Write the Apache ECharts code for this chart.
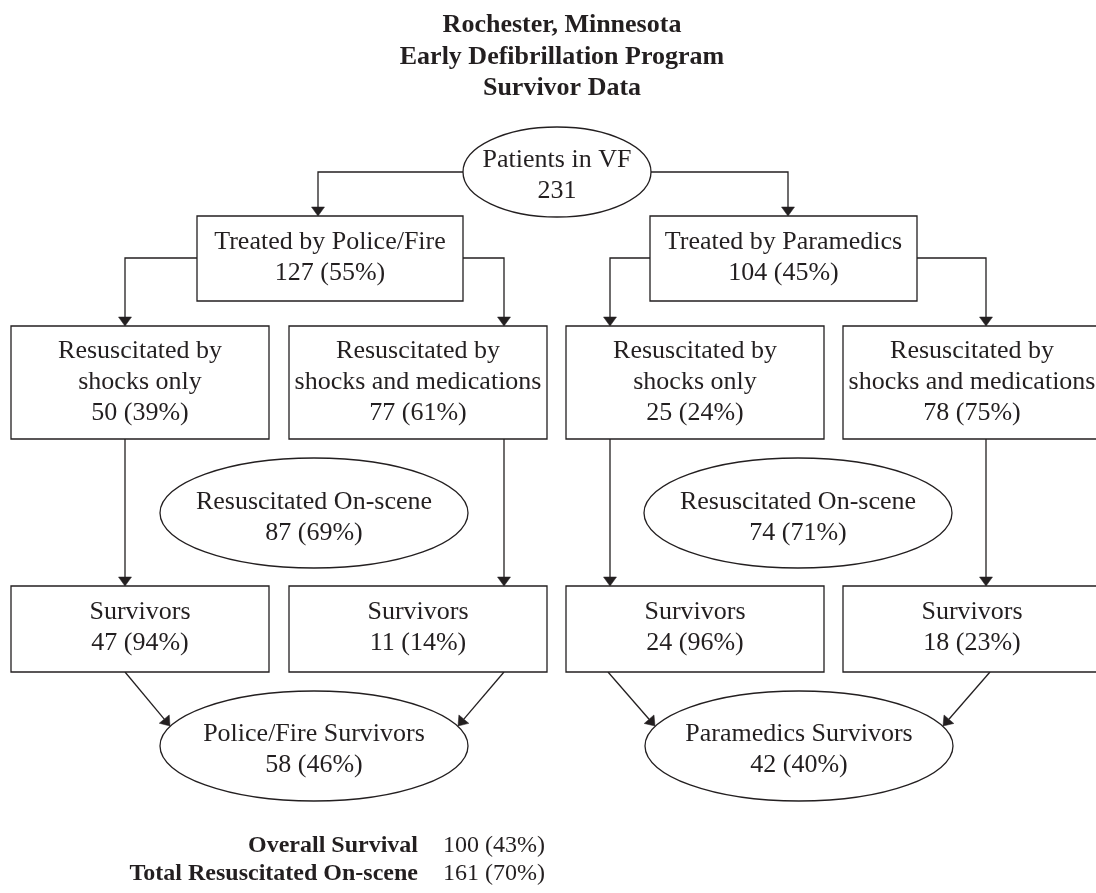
<!DOCTYPE html>
<html><head><meta charset="utf-8">
<script src="https://cdn.jsdelivr.net/npm/echarts@6/dist/echarts.min.js"></script>
<style>html,body{margin:0;padding:0;background:#fff}#c{width:1096px;height:893px}</style>
</head><body><div id="c"></div>
<script>
// ---------- data ----------
const titleLines = ['Rochester, Minnesota', 'Early Defibrillation Program', 'Survivor Data'];
const nodeNames = [
  'Patients in VF',
  'Treated by Police/Fire', 'Treated by Paramedics',
  'Resuscitated by\nshocks only', 'Resuscitated by\nshocks and medications',
  'Resuscitated by\nshocks only', 'Resuscitated by\nshocks and medications',
  'Resuscitated On-scene', 'Resuscitated On-scene',
  'Survivors', 'Survivors', 'Survivors', 'Survivors',
  'Police/Fire Survivors', 'Paramedics Survivors'
];
const nodeCounts = [231, 127, 104, 50, 77, 25, 78, 87, 74, 47, 11, 24, 18, 58, 42];
const nodePercents = [null, 55, 45, 39, 61, 24, 75, 69, 71, 94, 14, 96, 23, 46, 40];
const edgeFrom = [0, 0, 1, 1, 2, 2, 3, 4, 5, 6, 9, 10, 11, 12];
const edgeTo   = [1, 2, 3, 4, 5, 6, 9, 10, 11, 12, 13, 13, 14, 14];
const summaryLabels = ['Overall Survival', 'Total Resuscitated On-scene'];
const summaryCounts = [100, 161];
const summaryPercents = [43, 70];

// ---------- layout (page units) ----------
const W = 1096, H = 893;
const nodeShapes = [
  {kind: 'ellipse', cx: 557, cy: 172, w: 188, h: 90, ty: 176},
  {kind: 'rect', cx: 330, cy: 258.5, w: 266, h: 85, ty: 257.5},
  {kind: 'rect', cx: 783.5, cy: 258.5, w: 267, h: 85, ty: 257.5},
  {kind: 'rect', cx: 140, cy: 382.5, w: 258, h: 113, ty: 382.5},
  {kind: 'rect', cx: 418, cy: 382.5, w: 258, h: 113, ty: 382.5},
  {kind: 'rect', cx: 695, cy: 382.5, w: 258, h: 113, ty: 382.5},
  {kind: 'rect', cx: 972, cy: 382.5, w: 258, h: 113, ty: 382.5},
  {kind: 'ellipse', cx: 314, cy: 513, w: 308, h: 110, ty: 518},
  {kind: 'ellipse', cx: 798, cy: 513, w: 308, h: 110, ty: 518},
  {kind: 'rect', cx: 140, cy: 629, w: 258, h: 86, ty: 628},
  {kind: 'rect', cx: 418, cy: 629, w: 258, h: 86, ty: 628},
  {kind: 'rect', cx: 695, cy: 629, w: 258, h: 86, ty: 628},
  {kind: 'rect', cx: 972, cy: 629, w: 258, h: 86, ty: 628},
  {kind: 'ellipse', cx: 314, cy: 746, w: 308, h: 110, ty: 750},
  {kind: 'ellipse', cx: 799, cy: 746, w: 308, h: 110, ty: 750}
];
const edgePaths = [
  [[463, 172], [318, 172], [318, 216]],
  [[651, 172], [788, 172], [788, 216]],
  [[197, 258], [125, 258], [125, 326]],
  [[463, 258], [504, 258], [504, 326]],
  [[650, 258], [610, 258], [610, 326]],
  [[917, 258], [986, 258], [986, 326]],
  [[125, 439], [125, 586]],
  [[504, 439], [504, 586]],
  [[610, 439], [610, 586]],
  [[986, 439], [986, 586]],
  [[125, 672], [170, 726]],
  [[504, 672], [458, 726]],
  [[608, 672], [655, 726]],
  [[990, 672], [943, 726]]
];
const summaryRow = [846, 874];
const summaryLabelRight = 418, summaryValueLeft = 443;

const LINE = '#231f20', TXT = '#231f20';
const FONT = '"Liberation Serif", "Times New Roman", serif';

function nodeText(i) {
  const p = nodePercents[i];
  return nodeNames[i] + '\n' + nodeCounts[i] + (p == null ? '' : ' (' + p + '%)');
}

const chart = echarts.init(document.getElementById('c'), null, {renderer: 'canvas'});

function renderNode(params, api) {
  const i = api.value(0);
  const s = nodeShapes[i];
  const c = api.coord([s.cx, s.cy]);
  const sz = api.size([s.w, s.h]);
  const t = api.coord([s.cx, s.ty]);
  const shapeEl = s.kind === 'rect'
    ? {type: 'rect', shape: {x: c[0] - sz[0] / 2, y: c[1] - sz[1] / 2, width: sz[0], height: sz[1]},
       style: {fill: '#fff', stroke: LINE, lineWidth: 1.3}}
    : {type: 'ellipse', shape: {cx: c[0], cy: c[1], rx: sz[0] / 2, ry: sz[1] / 2},
       style: {fill: '#fff', stroke: LINE, lineWidth: 1.3}};
  return {type: 'group', children: [shapeEl, {
    type: 'text',
    style: {text: nodeText(i), x: t[0], y: t[1], align: 'center', verticalAlign: 'middle',
            fontSize: 26, fontFamily: FONT, fill: TXT, lineHeight: 31}
  }]};
}

function renderEdge(params, api) {
  const k = api.value(0);
  const pts = edgePaths[k].map(p => api.coord(p));
  const n = pts.length;
  const tip = pts[n - 1], prev = pts[n - 2];
  const dx = tip[0] - prev[0], dy = tip[1] - prev[1];
  const len = Math.sqrt(dx * dx + dy * dy);
  const ux = dx / len, uy = dy / len;
  const L = 9, Wd = 6.5;
  const bx = tip[0] - ux * L, by = tip[1] - uy * L;
  const head = [[tip[0], tip[1]], [bx - uy * Wd, by + ux * Wd], [bx + uy * Wd, by - ux * Wd]];
  const linePts = pts.slice(0, n - 1).concat([[bx, by]]);
  return {type: 'group', children: [
    {type: 'polyline', shape: {points: linePts}, style: {stroke: LINE, lineWidth: 1.3, fill: null}},
    {type: 'polygon', shape: {points: head}, style: {fill: LINE, stroke: LINE, lineWidth: 0.5}}
  ]};
}

function renderSummary(params, api) {
  const k = api.value(0);
  const a = api.coord([summaryLabelRight, summaryRow[k]]);
  const b = api.coord([summaryValueLeft, summaryRow[k]]);
  return {type: 'group', children: [
    {type: 'text', style: {text: summaryLabels[k], x: a[0], y: a[1], align: 'right', verticalAlign: 'middle',
      fontSize: 24, fontWeight: 'bold', fontFamily: FONT, fill: TXT}},
    {type: 'text', style: {text: summaryCounts[k] + ' (' + summaryPercents[k] + '%)', x: b[0], y: b[1],
      align: 'left', verticalAlign: 'middle', fontSize: 24, fontFamily: FONT, fill: TXT}}
  ]};
}

chart.setOption({
  animation: false,
  backgroundColor: '#fff',
  title: {
    text: titleLines.join('\n'),
    left: 557, top: 5, textAlign: 'center',
    textStyle: {fontFamily: FONT, fontSize: 26, fontWeight: 'bold', color: TXT, lineHeight: 31.5}
  },
  grid: {left: 0, right: 0, top: 0, bottom: 0},
  xAxis: {type: 'value', min: 0, max: W, show: false},
  yAxis: {type: 'value', min: 0, max: H, inverse: true, show: false},
  series: [
    {type: 'custom', name: 'edges', renderItem: renderEdge, clip: false,
     data: edgeFrom.map((f, k) => [k, f, edgeTo[k]]), z: 1},
    {type: 'custom', name: 'nodes', renderItem: renderNode, clip: false,
     data: nodeNames.map((n, i) => [i, nodeCounts[i]]), z: 2},
    {type: 'custom', name: 'summary', renderItem: renderSummary, clip: false,
     data: summaryLabels.map((n, k) => [k, summaryCounts[k]]), z: 2}
  ]
});
</script></body></html>
